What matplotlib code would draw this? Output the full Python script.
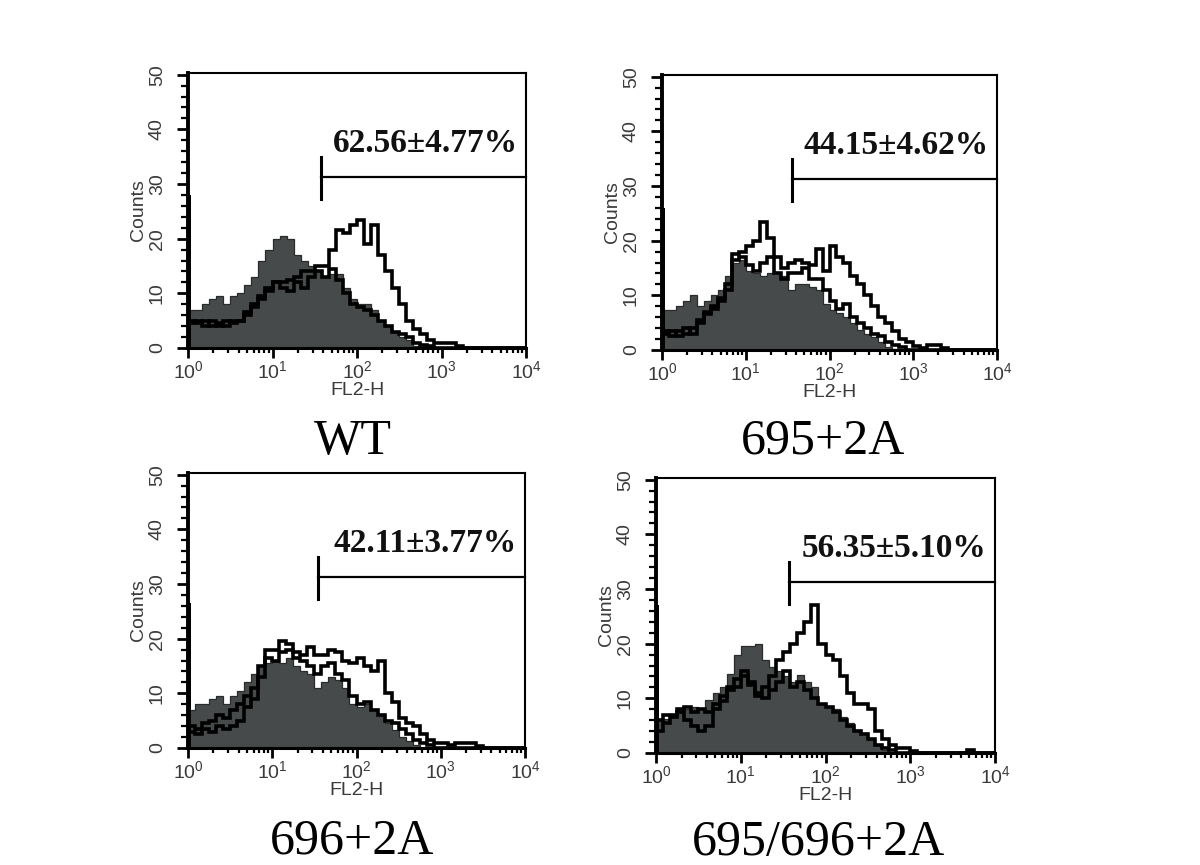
import numpy as np
import matplotlib
matplotlib.use("Agg")
import matplotlib.pyplot as plt
from matplotlib.ticker import FixedLocator, LogLocator, NullFormatter

plt.rcParams['font.family'] = ['Liberation Sans', 'DejaVu Sans']

# ---------------- data (counts per log-spaced bin, 12 bins per decade, 10^0..10^4) ----------------
titles = ["WT", "695+2A", "696+2A", "695/696+2A"]
gate_labels = ["62.56\u00b14.77%", "44.15\u00b14.62%", "42.11\u00b13.77%", "56.35\u00b15.10%"]
gate_x = [37, 36, 35, 37]
gate_y = 31.3
first_channel = [28, 26, 26.5, 27]

wt_ctrl = [7, 7, 8, 9, 9.5, 8, 9.5, 10, 11.5, 13, 16, 18, 20, 20.5, 20, 17, 16, 15, 14, 13, 13.5, 13.5, 11, 9,
           8, 8, 7, 5, 4, 3, 2, 1.5, 0.3, 0.3] + [0] * 14
wt_a = [4.5, 5, 4, 5, 4, 5, 4.5, 5, 6.5, 8, 9.5, 11, 12, 11, 10.5, 12, 11, 13, 14, 13, 14.5, 12.5, 10, 8,
        7.5, 7, 6, 5, 4, 3, 2.5, 2, 1, 0.5, 0.3] + [0] * 13
wt_b = [5, 4.5, 5, 4, 4.5, 4, 5, 5, 6, 7.5, 9, 10.5, 12, 12, 12.5, 13, 14, 14, 15, 15, 18, 21.5, 21, 22.5,
        23.5, 19, 22.5, 17, 14, 11, 8, 5, 3.5, 2.5, 1.5, 1, 1, 1, 0.3] + [0] * 9

m695_ctrl = [7.3, 7.3, 8, 9, 10, 8, 9, 10, 11, 13.5, 16, 16.5, 14.5, 14, 13.5, 14, 14, 13.5, 11, 12, 12, 11.5,
             11, 8.5, 7.3, 6.7, 6, 5, 3.7, 3, 2.4, 1.5, 0.6, 0.2] + [0] * 14
m695_a = [3, 3.5, 2.5, 3, 4, 5, 6.5, 8, 9, 11, 16.5, 17, 15.5, 14.5, 16, 17, 14, 13, 14, 14, 15, 13, 13, 11,
          9, 7.5, 8.5, 6, 5, 4, 3, 2.5, 1.5, 1, 0.5] + [0] * 13
m695_b = [3.5, 2.5, 3.5, 4, 3, 5.5, 7, 7.5, 9.5, 12, 17.5, 18, 19, 20, 23.5, 20.5, 17, 15, 16, 16.5, 16, 15.5,
          18.5, 14.5, 19, 17, 16, 13.5, 12, 10, 8, 6, 5, 3.5, 2, 1.5, 0.8, 0.4, 1, 1, 0.3] + [0] * 7

m696_ctrl = [7, 8, 8, 9, 9.5, 8, 9.5, 10.5, 12, 13.5, 15, 15.5, 16, 15.5, 16.5, 15, 14, 13.5, 11, 12, 13, 12.5,
             11, 8, 7.5, 8, 7, 6, 4.5, 3.3, 2, 1.2, 0.5] + [0] * 15
m696_a = [4, 3.5, 4.5, 5, 6, 5.5, 7, 8, 9.5, 11, 15, 16.5, 16, 17.5, 18, 16.5, 16, 15, 13.5, 15, 15.5, 13.5,
          12.5, 9.5, 8, 8.5, 7, 6, 5, 4.5, 3.5, 2.5, 1.5, 1, 0.5] + [0] * 13
m696_b = [3, 2.5, 3.5, 3, 4, 3.5, 4, 5, 7.5, 9, 13, 18, 18, 19.5, 19, 17.5, 17, 18.5, 17, 17, 18, 17.5, 16,
          15.5, 16.5, 15, 14, 16, 10, 8.5, 5.5, 4.5, 4, 2.5, 1.5, 1, 1, 0.5, 1, 1, 1, 0.3] + [0] * 6

m695696_ctrl = [6, 6.3, 6.6, 7.3, 8, 8.5, 8, 9.7, 11, 12, 14.5, 18, 19.5, 19.5, 20, 17, 15.8, 15, 14, 13, 14.3,
                13, 12, 9, 8.5, 8, 6.6, 5.4, 4.2, 3.6, 2.4, 1.5, 0.5] + [0] * 15
m695696_a = [4, 5.5, 6.5, 7.5, 6, 5, 4, 5, 8, 9.5, 11.5, 12, 14, 12.5, 10.5, 10, 11.5, 13, 15, 12, 13, 11.5,
             10, 9, 8.5, 7.5, 6, 5, 4, 3.5, 2.5, 1.5, 1, 0.5] + [0] * 14
m695696_b = [6, 7, 7, 8, 8.5, 7.5, 8, 7.5, 9, 10.5, 12, 13.5, 15, 13, 11, 12, 14, 17, 18.5, 20, 22, 24, 27,
             20, 18, 17, 14, 11, 9, 9, 8, 4, 2.5, 1.5, 1, 1, 0.3] + [0] * 7 + [0.6] + [0] * 3

controls = [wt_ctrl, m695_ctrl, m696_ctrl, m695696_ctrl]
series_a = [wt_a, m695_a, m696_a, m695696_a]
series_b = [wt_b, m695_b, m696_b, m695696_b]

x_ticks = [1, 10, 100, 1000, 10000]
y_ticks = [0, 10, 20, 30, 40, 50]

# ---------------- layout (pixels of a 1200x865 canvas) ----------------
W, H = 1200, 865
boxes = [(188, 526, 348, 73), (662, 997, 350, 75), (188, 525, 748, 473), (656, 995, 753, 478)]
title_pos = [(353, 454), (823, 454), (352, 853), (818, 855)]

fig = plt.figure(figsize=(12, 8.65), dpi=100)
grey = '#474a4a'

for i in range(4):
    l, r, b, t = boxes[i]
    ax = fig.add_axes([l / W, (H - b) / H, (r - l) / W, (b - t) / H])
    n = len(controls[i])
    edges = np.logspace(0, 4, n + 1)
    ax.stairs(controls[i], edges, fill=True, color=grey, zorder=2)
    ax.stairs(controls[i], edges, color='#2a2c2c', lw=0.9, zorder=2)
    ax.stairs(series_a[i], edges, color='black', lw=2.6, zorder=3)
    ax.stairs(series_b[i], edges, color='black', lw=2.6, zorder=3)
    ax.stairs([first_channel[i]], [1.0, 1.08], fill=True, color='black', zorder=4)

    ax.set_xscale('log')
    ax.set_xlim(1, 1e4)
    ax.set_ylim(0, 50.3)

    # gate marker
    ax.plot([gate_x[i], 1e4], [gate_y, gate_y], color='black', lw=1.6, zorder=5, clip_on=False)
    ax.plot([gate_x[i], gate_x[i]], [gate_y - 4.0, gate_y + 3.7], color='black', lw=2.2, zorder=5)
    ax.text(0.975, 35.8, gate_labels[i], transform=ax.get_yaxis_transform(), ha='right', va='baseline',
            family=['Liberation Serif', 'DejaVu Serif'], fontweight='bold', fontsize=24, color='#111111')

    # spines
    ax.spines['left'].set_linewidth(2.8)
    ax.spines['bottom'].set_linewidth(2.2)
    ax.spines['top'].set_linewidth(1.5)
    ax.spines['right'].set_linewidth(1.5)

    ax.xaxis.set_major_locator(FixedLocator(x_ticks))
    ax.xaxis.set_minor_locator(LogLocator(base=10, subs=np.arange(2, 10), numticks=20))
    ax.xaxis.set_minor_formatter(NullFormatter())
    ax.yaxis.set_major_locator(FixedLocator(y_ticks))
    ax.yaxis.set_minor_locator(FixedLocator(np.arange(0, 51, 2)))
    ax.tick_params(axis='x', which='major', length=7, width=2.0, direction='out', labelsize=14,
                   labelcolor='#3a3a3a', pad=2)
    ax.tick_params(axis='x', which='minor', length=3.8, width=1.6, direction='out')
    ax.tick_params(axis='y', which='major', length=8, width=2.0, direction='out', labelsize=14,
                   labelcolor='#3a3a3a', pad=8, labelrotation=90)
    ax.tick_params(axis='y', which='minor', length=5, width=1.6, direction='out')
    for lab in ax.get_yticklabels():
        lab.set_va('center')

    ax.set_xlabel('FL2-H', fontsize=14, color='#3a3a3a', labelpad=0)
    ax.set_ylabel('Counts', fontsize=14, color='#3a3a3a', labelpad=1)

    tx, ty = title_pos[i]
    fig.text(tx / W, (H - ty) / H, titles[i], ha='center', va='baseline',
             family=['Liberation Serif', 'DejaVu Serif'], fontsize=36, color='black')

fig.savefig('out.png', dpi=100, facecolor='white')
